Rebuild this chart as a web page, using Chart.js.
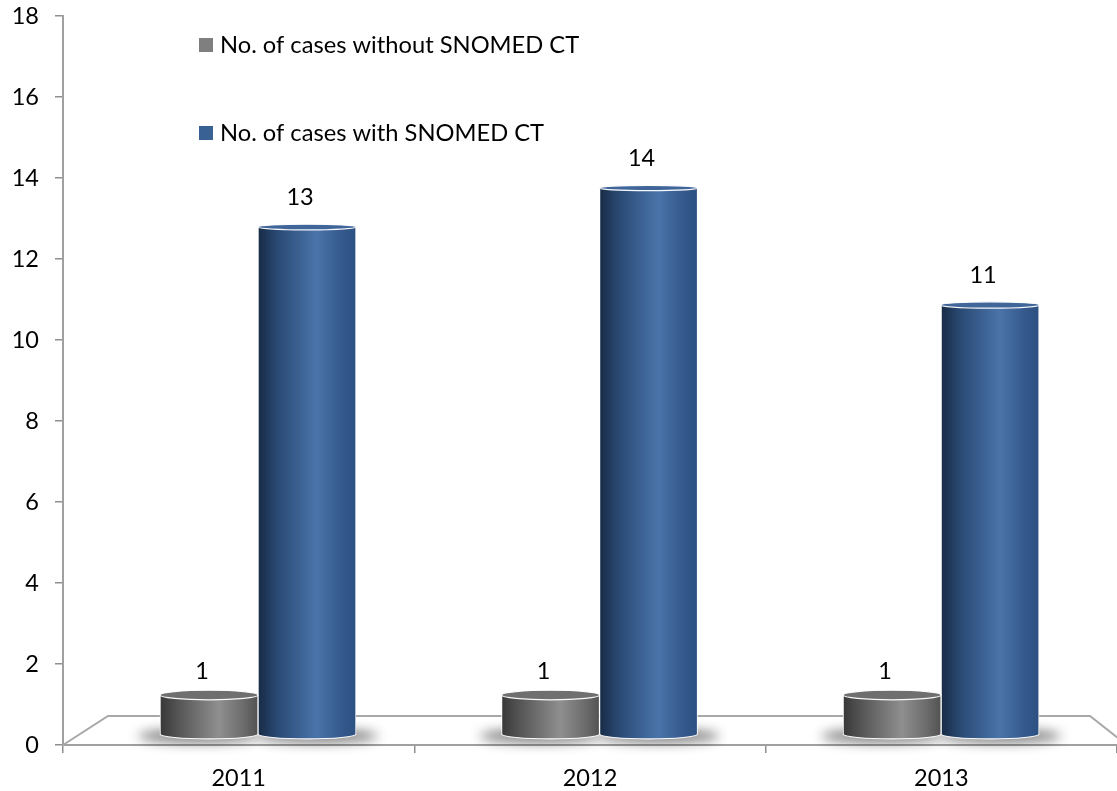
<!DOCTYPE html>
<html>
<head>
<meta charset="utf-8">
<script src="https://cdn.jsdelivr.net/npm/chart.js@4.4.1/dist/chart.umd.min.js"></script>
<style>
  html, body { margin: 0; padding: 0; background: #ffffff; }
  canvas { display: block; }
</style>
</head>
<body>
<canvas id="chart" width="1117" height="791"></canvas>
<script>
// ---- data ----
const years = ['2011', '2012', '2013'];
const casesWithoutSnomed = [1, 1, 1];
const casesWithSnomed = [13, 14, 11];
const seriesLabels = ['No. of cases without SNOMED CT', 'No. of cases with SNOMED CT'];
const yAxisMin = 0;
const yAxisMax = 18;
const yAxisStep = 2;

const FONT = 'Lato, "Open Sans", sans-serif';

// cylinder shading, left to right across each bar
const shades = [
  [[0, '#383838'], [0.2, '#575757'], [0.6, '#8f8f8f'], [0.85, '#6c6c6c'], [1, '#525252']],
  [[0, '#172b45'], [0.2, '#2a4a74'], [0.6, '#4a74aa'], [0.85, '#35598c'], [1, '#2c5081']]
];
const capColors = ['#6f6f6f', '#3f6599'];
const legendColors = ['#7f7f7f', '#3a6194'];
const rimColor = 'rgba(255,255,255,0.95)';

// bars stand on the middle of the 3D floor, a little behind the front axis plane
const toPoints = values => values.map((v, i) => ({ x: i, y: v }));

const cylinderPlugin = {
  id: 'cylinders',
  afterDatasetsUpdate(chart) {
    const ctx = chart.ctx;
    chart.data.datasets.forEach((ds, di) => {
      chart.getDatasetMeta(di).data.forEach(el => {
        const x0 = el.x - el.width / 2, x1 = el.x + el.width / 2;
        const g = ctx.createLinearGradient(x0, 0, x1, 0);
        shades[di].forEach(([o, c]) => g.addColorStop(o, c));
        el.options = Object.assign({}, el.options, { backgroundColor: g });
      });
    });
  },
  beforeDatasetsDraw(chart) {
    const ctx = chart.ctx, a = chart.chartArea;
    // floor of the 3D plot
    ctx.save();
    ctx.strokeStyle = '#a8a8a8';
    ctx.lineWidth = 2;
    ctx.beginPath();
    ctx.moveTo(a.left, a.bottom);
    ctx.lineTo(a.left + 45, a.bottom - 29);
    ctx.lineTo(a.right - 27, a.bottom - 29);
    ctx.lineTo(a.right + 10, a.bottom);
    ctx.stroke();
    // soft shadows under the cylinders
    ctx.filter = 'blur(6px)';
    ctx.fillStyle = 'rgba(0,0,0,0.5)';
    chart.data.datasets.forEach((ds, di) => {
      chart.getDatasetMeta(di).data.forEach(el => {
        ctx.beginPath();
        ctx.ellipse(el.x + (di ? 10 : -10), el.base + 2, el.width / 2 + 12, 7, 0, 0, Math.PI * 2);
        ctx.fill();
      });
    });
    ctx.restore();
  },
  afterDatasetsDraw(chart) {
    const ctx = chart.ctx, a = chart.chartArea;
    const capHeight = y => 2 + 3 * (y - a.top) / (a.bottom - a.top);
    chart.data.datasets.forEach((ds, di) => {
      chart.getDatasetMeta(di).data.forEach(el => {
        const rx = el.width / 2;
        ctx.save();
        // rounded bottom
        const rb = capHeight(el.base);
        ctx.beginPath();
        ctx.ellipse(el.x, el.base, rx, rb, 0, 0, Math.PI);
        ctx.fillStyle = el.options.backgroundColor;
        ctx.fill();
        ctx.strokeStyle = rimColor;
        ctx.lineWidth = 1.2;
        ctx.stroke();
        // top face
        const rt = capHeight(el.y);
        ctx.beginPath();
        ctx.ellipse(el.x, el.y, rx, rt, 0, 0, Math.PI * 2);
        ctx.fillStyle = capColors[di];
        ctx.fill();
        ctx.stroke();
        ctx.restore();
      });
    });
  }
};

const valueLabelPlugin = {
  id: 'valueLabels',
  afterDatasetsDraw(chart, args, opts) {
    const ctx = chart.ctx;
    ctx.save();
    ctx.font = opts.size + 'px ' + FONT;
    ctx.fillStyle = '#000';
    ctx.textAlign = 'center';
    ctx.textBaseline = 'middle';
    chart.data.datasets.forEach((ds, di) => {
      chart.getDatasetMeta(di).data.forEach((el, i) => {
        ctx.fillText(String(ds.data[i].y), el.x - 7, el.y - opts.lift[di]);
      });
    });
    ctx.restore();
  }
};

const legendPlugin = {
  id: 'boxLegend',
  afterDraw(chart, args, opts) {
    const ctx = chart.ctx, a = chart.chartArea;
    ctx.save();
    ctx.font = opts.size + 'px ' + FONT;
    ctx.textBaseline = 'middle';
    ctx.textAlign = 'left';
    chart.data.datasets.forEach((ds, di) => {
      const cy = a.top + opts.top + di * opts.gap;
      const x = a.left + opts.left;
      ctx.fillStyle = legendColors[di];
      ctx.fillRect(x, cy - 7, 14, 14);
      ctx.fillStyle = '#000';
      ctx.fillText(ds.label, x + 21, cy);
    });
    ctx.restore();
  }
};

new Chart(document.getElementById('chart'), {
  type: 'bar',
  data: {
    labels: years,
    datasets: [
      { label: seriesLabels[0], data: toPoints(casesWithoutSnomed), xAxisID: 'xb', yAxisID: 'yb',
        backgroundColor: legendColors[0], borderColor: rimColor },
      { label: seriesLabels[1], data: toPoints(casesWithSnomed), xAxisID: 'xb', yAxisID: 'yb',
        backgroundColor: legendColors[1], borderColor: rimColor }
    ]
  },
  options: {
    responsive: false,
    animation: false,
    devicePixelRatio: 1,
    layout: { padding: { top: 16, right: 0, bottom: 0, left: 0 } },
    datasets: {
      bar: {
        barThickness: 98,
        borderWidth: { left: 1, right: 1, top: 0, bottom: 0 },
        borderSkipped: false
      }
    },
    plugins: {
      colors: { enabled: false },
      legend: { display: false },
      tooltip: { enabled: false },
      valueLabels: { lift: [24, 30], size: 23.5 },
      boxLegend: { left: 136, top: 29, gap: 88, size: 23.7 }
    },
    scales: {
      x: {
        type: 'category',
        labels: years,
        offset: true,
        grid: { offset: true, drawOnChartArea: false, drawTicks: true, tickLength: 8, color: '#8f8f8f', lineWidth: 1.5 },
        border: { display: true, color: '#a0a0a0', width: 2 },
        ticks: { color: '#000', font: { family: FONT, size: 23.5 }, padding: 11 },
        afterFit: s => { s.height = 46; }
      },
      xb: { type: 'linear', display: false, offset: false, grid: { offset: false }, min: -0.571, max: 2.515 },
      y: {
        min: yAxisMin,
        max: yAxisMax,
        grid: { drawOnChartArea: false, drawTicks: true, tickLength: 8, color: '#8f8f8f', lineWidth: 1.5 },
        border: { display: true, color: '#a0a0a0', width: 2 },
        ticks: { stepSize: yAxisStep, color: '#000', font: { family: FONT, size: 23.5 }, padding: 16 },
        afterFit: s => { s.width = 63; s.paddingTop = 0; s.paddingBottom = 0; }
      },
      yb: { type: 'linear', display: false, min: -0.282, max: 18.41 }
    }
  },
  plugins: [cylinderPlugin, valueLabelPlugin, legendPlugin]
});
</script>
</body>
</html>
